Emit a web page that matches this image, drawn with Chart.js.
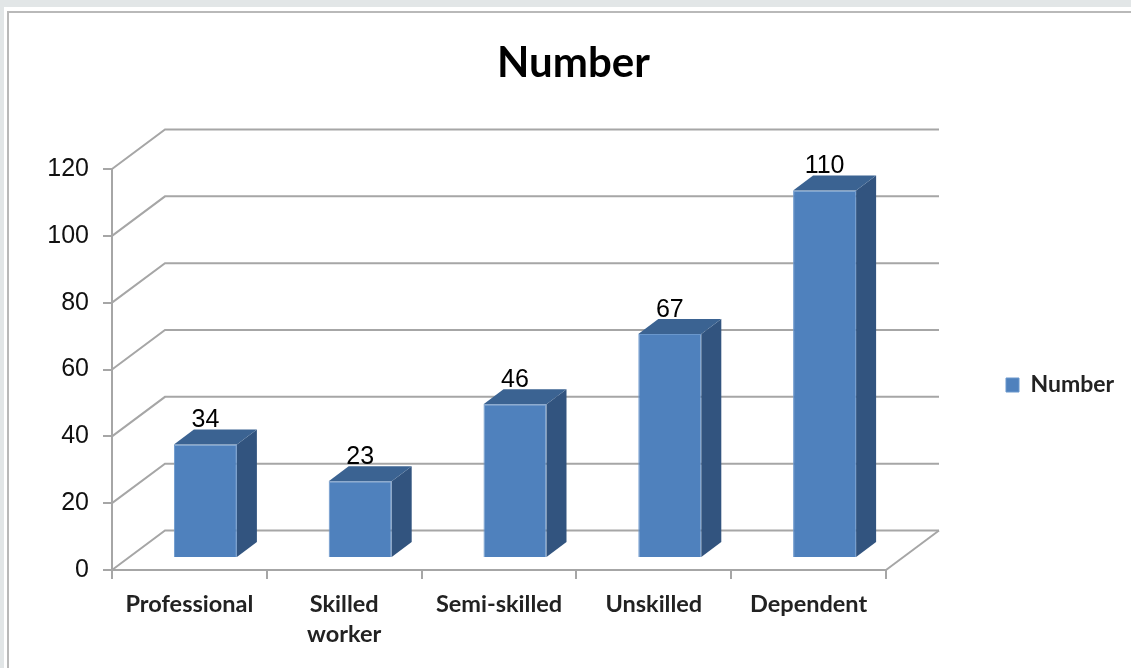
<!DOCTYPE html>
<html>
<head>
<meta charset="utf-8">
<title>Number</title>
<script src="https://cdn.jsdelivr.net/npm/chart.js@4"></script>
<style>
  html, body { margin: 0; padding: 0; background: #e2e6e7; overflow: hidden; }
  #sheet { position: absolute; left: 4px; top: 7px; right: 0; bottom: 0; background: #fff; }
  #frame { position: absolute; left: 3px; top: 4px; right: 0; bottom: 0; border-left: 2px solid #b9b9b9; border-top: 2px solid #b9b9b9; }
  canvas { position: absolute; left: 0; top: 0; filter: blur(0.6px); }
</style>
</head>
<body>
<div id="sheet"><div id="frame"></div></div>
<canvas id="chart" width="1131" height="668" style="width:1131px;height:668px"></canvas>
<script>
const categories = ['Professional', ['Skilled', 'worker'], 'Semi-skilled', 'Unskilled', 'Dependent'];
const numberValues = [34, 23, 46, 67, 110];
const seriesName = 'Number';

const gridColor = '#a6a6a6';
const textColor = '#222';
const fontFamily = '"Liberation Sans", sans-serif';
const labelFamily = 'Lato, sans-serif';
const wallX = 53, wallY = 39.5;
const barShiftX = 16, barShiftY = 12;
const barDepthX = 20, barDepthY = 15;

function polygon(ctx, pts, color) {
  ctx.fillStyle = color;
  ctx.beginPath();
  pts.forEach(([x, y], i) => i ? ctx.lineTo(x, y) : ctx.moveTo(x, y));
  ctx.closePath();
  ctx.fill();
}

const fake3d = {
  id: 'fake3d',
  beforeInit(chart) {
    // chart area stops well before the legend, the walls run into that gap
    const fit = chart.legend.fit;
    chart.legend.fit = function () { fit.call(this); this.width = 245; };
  },
  afterLayout(chart) {
    const legend = chart.legend;
    legend.left += 110;
    legend.top += 51;
    legend.bottom += 51;
  },
  beforeDatasetsDraw(chart) {
    const { ctx, scales: { x, y } } = chart;
    ctx.save();
    ctx.strokeStyle = gridColor;
    ctx.lineWidth = 2;
    y.ticks.forEach(t => {
      const py = y.getPixelForValue(t.value);
      ctx.beginPath();
      ctx.moveTo(x.left, py);
      ctx.lineTo(x.left + wallX, py - wallY);
      ctx.lineTo(x.right + wallX, py - wallY);
      ctx.stroke();
    });
    const py0 = y.getPixelForValue(0);
    ctx.beginPath();
    ctx.moveTo(x.right, py0);
    ctx.lineTo(x.right + wallX, py0 - wallY);
    ctx.stroke();
    ctx.restore();
  },
  beforeDatasetDraw(chart) {
    chart.ctx.save();
    chart.ctx.translate(barShiftX, -barShiftY);
  },
  afterDatasetDraw(chart, args) {
    const ctx = chart.ctx;
    args.meta.data.forEach(bar => {
      const l = bar.x - bar.width / 2, r = bar.x + bar.width / 2;
      polygon(ctx, [[r, bar.y], [r + barDepthX, bar.y - barDepthY], [r + barDepthX, bar.base - barDepthY], [r, bar.base]], '#32547f');
      polygon(ctx, [[l, bar.y], [l + barDepthX, bar.y - barDepthY], [r + barDepthX, bar.y - barDepthY], [r, bar.y]], '#3b6392');
    });
    ctx.restore();
    ctx.save();
    ctx.fillStyle = '#000';
    ctx.font = '25px ' + fontFamily;
    ctx.textAlign = 'center';
    ctx.textBaseline = 'middle';
    args.meta.data.forEach((bar, i) => {
      ctx.fillText(numberValues[i], bar.x + barShiftX, bar.y - barShiftY - 24);
    });
    ctx.restore();
  }
};

new Chart(document.getElementById('chart'), {
  type: 'bar',
  data: {
    labels: categories,
    datasets: [{
      label: seriesName,
      data: numberValues,
      backgroundColor: '#4f81bd',
      borderColor: '#6a97cc',
      borderWidth: 1,
      barPercentage: 0.407,
      categoryPercentage: 1
    }]
  },
  plugins: [fake3d],
  options: {
    responsive: false,
    animation: false,
    layout: { padding: { left: 16, right: 0, top: 0, bottom: 0 } },
    plugins: {
      title: {
        display: true,
        text: seriesName,
        color: '#000',
        font: { family: labelFamily, size: 42, weight: 'bold', lineHeight: 1.2 },
        padding: { top: 38, bottom: 80.6 }
      },
      legend: {
        display: true,
        position: 'right',
        labels: {
          color: textColor,
          boxWidth: 13,
          boxHeight: 14,
          padding: 10,
          font: { family: labelFamily, size: 23, weight: 'bold' }
        }
      },
      tooltip: { enabled: false }
    },
    scales: {
      x: {
        afterFit(scale) { scale.height = 98; },
        grid: { drawOnChartArea: false, color: gridColor, lineWidth: 2, tickLength: 9, tickColor: gridColor },
        border: { color: gridColor, width: 2 },
        ticks: {
          color: textColor,
          maxRotation: 0,
          autoSkip: false,
          padding: 10,
          font: { family: labelFamily, size: 23.5, weight: 'bold', lineHeight: 1.3 }
        }
      },
      y: {
        min: 0,
        max: 120,
        afterFit(scale) { scale.width = 96; },
        grid: { drawOnChartArea: false, color: gridColor, lineWidth: 2, tickLength: 9, tickColor: gridColor },
        border: { color: gridColor, width: 2 },
        ticks: {
          stepSize: 20,
          color: '#111',
          padding: 14,
          font: { family: fontFamily, size: 25 }
        }
      }
    }
  }
});
</script>
</body>
</html>
